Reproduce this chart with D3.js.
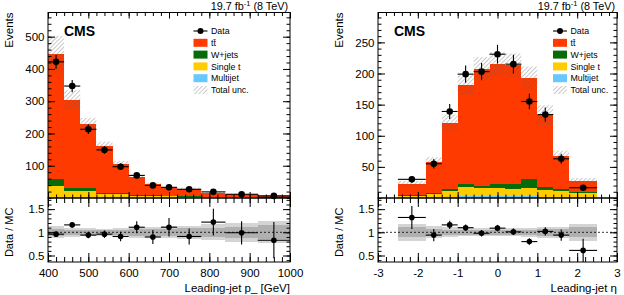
<!doctype html>
<html>
<head>
<meta charset="utf-8">
<style>
  body { margin: 0; background: #fff; font-family: 'Liberation Sans', Arial, sans-serif; }
  svg text { fill: #000; font-family: 'Liberation Sans', Arial, sans-serif; }
  .tick text { font-size: 11.5px; }
  .axis path.domain { display: none; }
  .axis line { stroke: #000; stroke-width: 1; }
  text.title { font-size: 11.5px; }
  text.cms { font-size: 14px; font-weight: bold; }
  text.lumi { font-size: 10.8px; }
  text.leg { font-size: 8.8px; }
</style>
<script src="https://d3js.org/d3.v7.min.js"></script>
</head>
<body>
<svg width="624" height="295"></svg>
<script>
// ---------- leading-jet pT ----------
const ptEdges    = [400, 440, 480, 520, 560, 600, 640, 680, 720, 780, 840, 920, 1000];
const ptTT       = [386, 274, 198, 146, 88, 56.5, 34.5, 24, 23.5, 12, 9, 5.5];
const ptW        = [21, 8, 8, 4, 4, 2, 2, 1.5, 1.5, 1, 0.5, 0.5];
const ptST       = [34, 19, 19, 10, 10, 5, 5, 4, 3, 2, 1.5, 1];
const ptMJ       = [4, 3, 3, 2, 2, 1.5, 1.5, 1.5, 1, 1, 0.5, 0.5];
const ptData     = [422, 347, 213, 149, 97, 70, 39, 33, 27, 19, 11.5, 6.5];
const ptDataErr  = [21, 19, 15, 12, 10, 8.5, 6.5, 6, 5, 4.5, 3.5, 2.5];
const ptRatio    = [0.96, 1.16, 0.94, 0.96, 0.91, 1.11, 0.90, 1.11, 0.91, 1.22, 0.99, 0.83];
const ptRatioErr = [0.05, 0.06, 0.07, 0.08, 0.10, 0.13, 0.15, 0.20, 0.17, 0.29, 0.25, 0.39];
const ptTotUnc   = [0.13, 0.10, 0.09, 0.08, 0.10, 0.12, 0.12, 0.13, 0.14, 0.17, 0.20, 0.24];
const ptStatUnc  = [0.07, 0.06, 0.05, 0.05, 0.06, 0.07, 0.07, 0.08, 0.09, 0.10, 0.12, 0.15];
const ptXTicks   = [400, 500, 600, 700, 800, 900, 1000];
const ptYTicks   = [100, 200, 300, 400, 500];

// ---------- leading-jet eta ----------
const etaEdges    = [-2.5, -1.8, -1.4, -1.0, -0.6, -0.2, 0.2, 0.6, 1.0, 1.4, 1.8, 2.5];
const etaTT       = [18, 50, 106, 159, 188, 192, 190, 162, 115.5, 54, 17.5];
const etaW        = [1, 2, 3, 5, 3.5, 7.5, 9, 13.5, 4.5, 3, 1];
const etaST       = [3, 4.5, 10, 15.5, 14, 13, 11.5, 14, 11, 9.5, 7.5];
const etaMJ       = [1, 1.5, 2, 2.5, 2.5, 2.5, 2.5, 2.5, 2, 1.5, 1];
const etaData     = [30, 55, 139, 199, 203, 231, 215, 155, 134, 63, 16.5];
const etaDataErr  = [5.5, 7.5, 12, 14, 14, 15, 15, 12.5, 11.5, 8, 4];
const etaRatio    = [1.32, 0.94, 1.16, 1.10, 0.98, 1.09, 1.01, 0.80, 1.02, 0.94, 0.61];
const etaRatioErr = [0.25, 0.13, 0.09, 0.07, 0.07, 0.07, 0.07, 0.07, 0.09, 0.12, 0.25];
const etaTotUnc   = [0.19, 0.13, 0.11, 0.09, 0.09, 0.09, 0.09, 0.10, 0.12, 0.12, 0.19];
const etaStatUnc  = [0.11, 0.07, 0.06, 0.05, 0.05, 0.05, 0.05, 0.06, 0.07, 0.07, 0.11];
const etaXTicks   = [-3, -2, -1, 0, 1, 2, 3];
const etaYTicks   = [50, 100, 150, 200, 250];

const legendNames = ['Data', 'tt\u0304', 'W+jets', 'Single t', 'Multijet', 'Total unc.'];
const colors = { tt: '#ff3a00', w: '#076b07', st: '#ffcc00', mj: '#66c8ff' };

const svg = d3.select('svg');
const topY = 12.5, mainBottom = 198, ratioBottom = 262;

const defs = svg.append('defs');
const pat = defs.append('pattern')
    .attr('id', 'hatch')
    .attr('patternUnits', 'userSpaceOnUse')
    .attr('width', 3).attr('height', 3)
    .attr('patternTransform', 'rotate(45)');
pat.append('line')
    .attr('x1', 0).attr('y1', 0).attr('x2', 0).attr('y2', 3)
    .attr('stroke', 'rgba(90,90,90,0.55)').attr('stroke-width', 1.2);

// plain hyphen for negative labels, as in the original
const plainFmt = v => String(v);

function drawPanel(p) {
    const x = d3.scaleLinear().domain(p.xDomain).range([p.left, p.right]);
    const y = d3.scaleLinear().domain(p.yDomain).range([mainBottom, topY]);
    const yr = d3.scaleLinear().domain([0.36, 1.74]).range([ratioBottom, mainBottom]);
    const g = svg.append('g');

    const bins = p.edges.slice(0, -1).map((lo, i) => ({ lo: lo, hi: p.edges[i + 1], i: i }));
    const rows = bins.map(b => ({ mj: p.mj[b.i], st: p.st[b.i], w: p.w[b.i], tt: p.tt[b.i] }));
    const layers = d3.stack().keys(['mj', 'st', 'w', 'tt'])(rows);

    layers.forEach(layer => {
        g.selectAll(null).data(layer).enter().append('rect')
            .attr('x', (d, i) => x(bins[i].lo))
            .attr('width', (d, i) => x(bins[i].hi) - x(bins[i].lo))
            .attr('y', d => y(d[1]))
            .attr('height', d => y(d[0]) - y(d[1]))
            .attr('fill', colors[layer.key])
            .attr('shape-rendering', 'crispEdges');
    });

    // total uncertainty band, hatched
    const totals = layers[layers.length - 1].map(d => d[1]);
    g.selectAll(null).data(bins).enter().append('rect')
        .attr('x', b => x(b.lo))
        .attr('width', b => x(b.hi) - x(b.lo))
        .attr('y', b => y(totals[b.i] * (1 + p.totUnc[b.i])))
        .attr('height', b => y(totals[b.i] * (1 - p.totUnc[b.i])) - y(totals[b.i] * (1 + p.totUnc[b.i])))
        .attr('fill', 'url(#hatch)');

    // data points
    const pts = g.selectAll(null).data(bins).enter().append('g');
    pts.append('line')
        .attr('x1', b => x(b.lo)).attr('x2', b => x(b.hi))
        .attr('y1', b => y(p.data[b.i])).attr('y2', b => y(p.data[b.i]))
        .attr('stroke', '#000').attr('stroke-width', 1.1);
    pts.append('line')
        .attr('x1', b => x((b.lo + b.hi) / 2)).attr('x2', b => x((b.lo + b.hi) / 2))
        .attr('y1', b => y(p.data[b.i] - p.dataErr[b.i])).attr('y2', b => y(p.data[b.i] + p.dataErr[b.i]))
        .attr('stroke', '#000').attr('stroke-width', 1.1);
    pts.append('circle')
        .attr('cx', b => x((b.lo + b.hi) / 2)).attr('cy', b => y(p.data[b.i]))
        .attr('r', 3.3).attr('fill', '#000');

    // ratio bands
    g.selectAll(null).data(bins).enter().append('rect')
        .attr('x', b => x(b.lo)).attr('width', b => x(b.hi) - x(b.lo))
        .attr('y', b => yr(1 + p.totUnc[b.i]))
        .attr('height', b => yr(1 - p.totUnc[b.i]) - yr(1 + p.totUnc[b.i]))
        .attr('fill', '#d4d4d4').attr('shape-rendering', 'crispEdges');
    g.selectAll(null).data(bins).enter().append('rect')
        .attr('x', b => x(b.lo)).attr('width', b => x(b.hi) - x(b.lo))
        .attr('y', b => yr(1 + p.statUnc[b.i]))
        .attr('height', b => yr(1 - p.statUnc[b.i]) - yr(1 + p.statUnc[b.i]))
        .attr('fill', '#b0b0b0').attr('shape-rendering', 'crispEdges');

    g.append('line')
        .attr('x1', p.left).attr('x2', p.right)
        .attr('y1', yr(1)).attr('y2', yr(1))
        .attr('stroke', '#000').attr('stroke-width', 0.8).attr('stroke-dasharray', '2,2');

    const rp = g.selectAll(null).data(bins).enter().append('g');
    rp.append('line')
        .attr('x1', b => x(b.lo)).attr('x2', b => x(b.hi))
        .attr('y1', b => yr(p.ratio[b.i])).attr('y2', b => yr(p.ratio[b.i]))
        .attr('stroke', '#000').attr('stroke-width', 1.1);
    rp.append('line')
        .attr('x1', b => x((b.lo + b.hi) / 2)).attr('x2', b => x((b.lo + b.hi) / 2))
        .attr('y1', b => yr(p.ratio[b.i] - p.ratioErr[b.i])).attr('y2', b => yr(p.ratio[b.i] + p.ratioErr[b.i]))
        .attr('stroke', '#000').attr('stroke-width', 1.1);
    rp.append('circle')
        .attr('cx', b => x((b.lo + b.hi) / 2)).attr('cy', b => yr(p.ratio[b.i]))
        .attr('r', 2.8).attr('fill', '#000');

    // frames
    g.append('rect').attr('x', p.left).attr('y', topY)
        .attr('width', p.right - p.left).attr('height', mainBottom - topY)
        .attr('fill', 'none').attr('stroke', '#000').attr('stroke-width', 1);
    g.append('rect').attr('x', p.left).attr('y', mainBottom)
        .attr('width', p.right - p.left).attr('height', ratioBottom - mainBottom)
        .attr('fill', 'none').attr('stroke', '#000').attr('stroke-width', 1);

    // ticks
    const xMinor = d3.range(p.xDomain[0], p.xDomain[1] + 1e-9, p.xMinorStep);
    const yMinor = d3.range(0, p.yDomain[1], p.yMinorStep);
    const rMinor = d3.range(0.4, 1.74, 0.1);
    function ax(axisFn, scale, vals, size, tx, ty, labels, pad) {
        const a = axisFn(scale).tickValues(vals).tickSizeInner(size).tickSizeOuter(0)
            .tickPadding(pad || 3);
        if (!labels) a.tickFormat('');
        else a.tickFormat(plainFmt);
        g.append('g').attr('class', 'axis').attr('transform', `translate(${tx},${ty})`).call(a);
    }
    // main panel
    ax(d3.axisBottom, x, p.xTicks, -6, 0, mainBottom);
    ax(d3.axisBottom, x, xMinor, -3.5, 0, mainBottom);
    ax(d3.axisTop, x, p.xTicks, -6, 0, topY);
    ax(d3.axisTop, x, xMinor, -3.5, 0, topY);
    ax(d3.axisLeft, y, p.yTicks, -7, p.left, 0, true, 3.5);
    ax(d3.axisLeft, y, yMinor, -3.5, p.left, 0);
    ax(d3.axisRight, y, p.yTicks, -7, p.right, 0);
    ax(d3.axisRight, y, yMinor, -3.5, p.right, 0);
    // ratio panel
    const rx = d3.axisBottom(x).tickValues(p.xTicks).tickSizeInner(-9).tickSizeOuter(0)
        .tickPadding(7).tickFormat(plainFmt);
    g.append('g').attr('class', 'axis').attr('transform', `translate(0,${ratioBottom})`).call(rx);
    ax(d3.axisBottom, x, xMinor, -5, 0, ratioBottom);
    ax(d3.axisTop, x, p.xTicks, -9, 0, mainBottom);
    ax(d3.axisTop, x, xMinor, -5, 0, mainBottom);
    const ry = d3.axisLeft(yr).tickValues([0.5, 1, 1.5]).tickSizeInner(-7).tickSizeOuter(0)
        .tickPadding(3.5).tickFormat(plainFmt);
    g.append('g').attr('class', 'axis').attr('transform', `translate(${p.left},0)`).call(ry);
    ax(d3.axisLeft, yr, rMinor, -3.5, p.left, 0);
    ax(d3.axisRight, yr, [0.5, 1, 1.5], -7, p.right, 0);
    ax(d3.axisRight, yr, rMinor, -3.5, p.right, 0);

    // titles
    g.append('text').attr('class', 'title')
        .attr('transform', `translate(${p.left - 35},${topY}) rotate(-90)`)
        .attr('text-anchor', 'end').text('Events');
    g.append('text').attr('class', 'title').style('font-size', '11px')
        .attr('transform', `translate(${p.left - 35},${yr(1)}) rotate(-90)`)
        .attr('text-anchor', 'middle').text('Data / MC');
    g.append('text').attr('class', 'title')
        .attr('x', p.right).attr('y', 292)
        .attr('text-anchor', 'end').text(p.xTitle);
    g.append('text').attr('class', 'cms')
        .attr('x', p.left + 16).attr('y', 36).text('CMS');
    const lumi = g.append('text').attr('class', 'lumi')
        .attr('x', p.right - 2).attr('y', 9.5).attr('text-anchor', 'end');
    lumi.append('tspan').text('19.7 fb');
    lumi.append('tspan').attr('dy', -3.5).style('font-size', '7.5px').text('-1');
    lumi.append('tspan').attr('dy', 3.5).text(' (8 TeV)');

    // legend
    const lx = p.legendX;
    const leg = g.selectAll(null).data(legendNames).enter().append('g')
        .attr('transform', (d, i) => `translate(${lx},${31 + i * 11.8})`);
    leg.each(function (d, i) {
        const s = d3.select(this);
        if (i === 0) {
            s.append('line').attr('x1', 0).attr('x2', 14).attr('y1', 0).attr('y2', 0)
                .attr('stroke', '#000').attr('stroke-width', 1.1);
            s.append('circle').attr('cx', 7).attr('cy', 0).attr('r', 3).attr('fill', '#000');
        } else {
            const fill = i === 5 ? 'url(#hatch)' : colors[['tt', 'w', 'st', 'mj'][i - 1]];
            s.append('rect').attr('x', 0).attr('y', -4).attr('width', 14).attr('height', 8)
                .attr('fill', fill);
        }
        s.append('text').attr('class', 'leg').attr('x', 17.5).attr('y', 3.2).text(d);
    });
}

drawPanel({
    left: 48, right: 290, xDomain: [400, 1000], yDomain: [0, 575],
    edges: ptEdges, tt: ptTT, w: ptW, st: ptST, mj: ptMJ,
    data: ptData, dataErr: ptDataErr, ratio: ptRatio, ratioErr: ptRatioErr,
    totUnc: ptTotUnc, statUnc: ptStatUnc,
    xTicks: ptXTicks, yTicks: ptYTicks, xMinorStep: 20, yMinorStep: 20,
    xTitle: 'Leading-jet p_ [GeV]', legendX: 193.5
});

drawPanel({
    left: 378, right: 617, xDomain: [-3, 3], yDomain: [0, 298],
    edges: etaEdges, tt: etaTT, w: etaW, st: etaST, mj: etaMJ,
    data: etaData, dataErr: etaDataErr, ratio: etaRatio, ratioErr: etaRatioErr,
    totUnc: etaTotUnc, statUnc: etaStatUnc,
    xTicks: etaXTicks, yTicks: etaYTicks, xMinorStep: 0.2, yMinorStep: 10,
    xTitle: 'Leading-jet \u03b7', legendX: 553
});
</script>
</body>
</html>
